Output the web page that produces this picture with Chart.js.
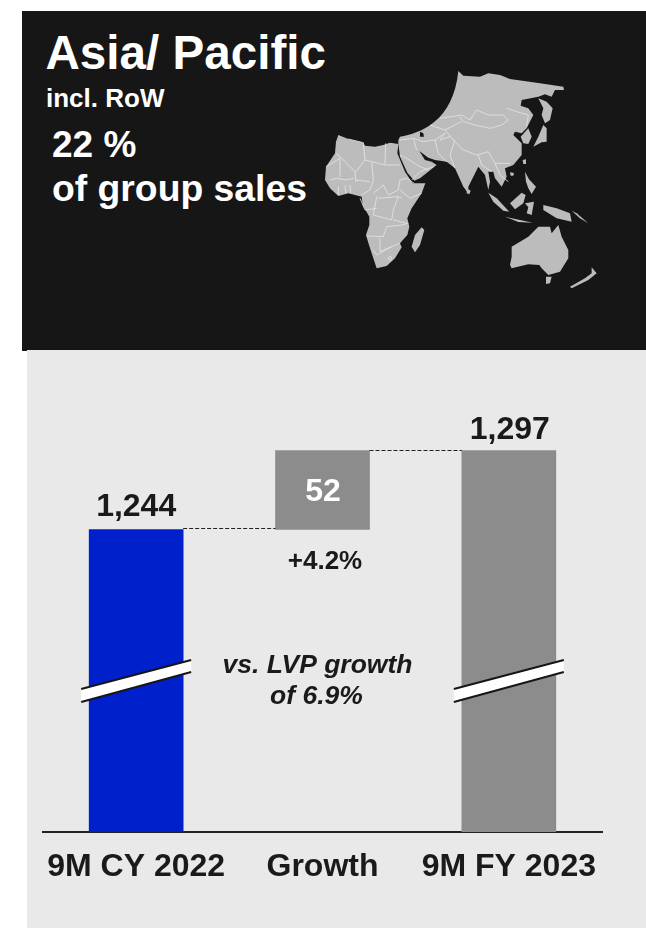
<!DOCTYPE html>
<html>
<head>
<meta charset="utf-8">
<title>Asia/ Pacific</title>
<script src="https://cdn.jsdelivr.net/npm/chart.js@4"></script>
<style>
    html, body { margin: 0; background: #fff; }
    #pagina { position: relative; width: 646px; height: 928px; overflow: hidden; font-family: "Liberation Sans", Arial, sans-serif; font-weight: bold; }
    #oscuro { position: absolute; left: 22px; top: 11px; width: 624px; height: 340px; background: #161616; }
    #claro { position: absolute; left: 27px; top: 350px; width: 619px; height: 578px; background: #e9e9e9; }
    #grafica, #mapa { position: absolute; left: 0; top: 0; }
    #mapa { filter: blur(.35px); }
    .txt { position: absolute; color: #fff; white-space: nowrap; line-height: 1; }
</style>
</head>
<body>
<div id="pagina">
    <div id="oscuro"></div>
    <div id="claro"></div>

    <div class="txt" style="left:45.5px;top:29px;font-size:47.6px">Asia/ Pacific</div>
    <div class="txt" style="left:46px;top:85px;font-size:26px">incl. RoW</div>
    <div class="txt" style="left:52px;top:126px;font-size:37px">22 %</div>
    <div class="txt" style="left:52px;top:170px;font-size:37.3px">of group sales</div>

    <!-- Mapa decorativo, dibujado a mano -->
    <svg id="mapa" width="646" height="350" fill="#bcbcbc" stroke="none">
        <g transform="translate(320 130) scale(.3333)">
            <path d="M55 15 85 27 130 38 135 47 165 50 190 45 210 38 235 42 232 70 255 125 278 160 316 160 305 190 275 235 262 265 268 290 262 315 240 340 245 352 225 385 200 408 170 415 160 385 147 345 138 315 148 285 148 260 128 225 125 200 85 190 55 198 30 175 15 150 18 110 45 70 48 35Z"/>
            <path d="M305 292 313 300 300 345 285 367 275 350 285 315Z"/>
            <g fill="none" stroke="#e6e6e6" stroke-width="2.4">
                <path d="M48 70 65 85 105 125 108 155M18 110 60 85 60 140"/>
                <path d="M85 27 130 38 135 90 108 125M135 90 155 95 195 105 197 40M197 105 240 105"/>
                <path d="M155 95 160 150 150 180 125 195M105 150 150 155"/>
                <path d="M190 165 205 195 235 180 240 150 260 145 283 160M190 165 160 190"/>
                <path d="M240 180 270 205 305 190M175 205 235 200 245 205"/>
                <path d="M170 200 160 255 215 270 220 240 235 200M220 270 260 280"/>
                <path d="M140 318 190 320 200 290 245 285 265 280M180 325 180 365 215 350 240 340M160 360 170 375 215 350"/>
                <path d="M30 150 50 145 80 150 100 145M55 170 55 195M75 165 78 190M90 165 92 190M120 205 135 240 170 235"/>
                <circle cx="210" cy="385" r="5"/>
            </g>
        </g>
        <g transform="translate(400 65) scale(.3333)">
            <path d="M0 215C60 205 160 170 175 18L190 32 240 35 265 25 300 30 330 42 420 55 490 65 492 75 465 75 455 95 435 88 415 95 365 105 362 122 385 130 400 150 380 190 365 205 345 200 340 210 365 235 365 270 340 300 315 310 320 335 305 365 285 340 280 320 265 320 270 350 265 375 255 330 235 305 205 365 205 385 190 365 165 310 140 290 105 285 85 278 58 258 75 285 95 290 110 300 60 340 43 347 22 323 0 275-5 237-5 225Z"/>
            <path d="M415 100 440 110 458 130 450 165 435 175 425 150 430 130Z"/>
            <path d="M385 190 395 215 385 237 370 235 362 215Z"/>
            <path d="M400 245 415 215 430 180 440 190 440 230 425 232Z"/>
            <path d="M368 285 378 283 378 297 370 297Z"/>
            <path d="M330 322 342 324 340 332 332 332Z"/>
            <path fill="#161616" d="M60 200 70 205 72 215 60 215Z"/>
            <g fill="none" stroke="#e6e6e6" stroke-width="2.4">
                <path d="M120 160 185 150 210 165 230 135 265 150 310 150 325 165 305 180 270 190 225 180 190 170 180 155"/>
                <path d="M320 130 350 140 385 150 380 185"/>
                <path d="M90 180 135 195 165 180 185 170M135 195 160 225 190 255 230 270 265 260 285 295 330 295"/>
                <path d="M0 225 40 220 70 230 105 225 135 205M105 225 115 265 140 290M40 220 50 255"/>
                <path d="M165 225 150 270 165 310M235 270 245 300 275 320M285 295 300 330 325 350"/>
                <path d="M0 270 20 280 60 305 85 315M35 345 60 320 100 305M135 205 120 225 150 215"/>
            </g>
        </g>
        <g transform="translate(460 170) scale(.3333)">
            <path d="M85 68 110 85 148 125 130 122 100 95Z"/>
            <path d="M135 140 180 150 218 158 175 156Z"/>
            <path d="M150 100 185 68 197 75 190 100 165 118Z"/>
            <path d="M195 100 222 95 215 135 200 130 205 112Z"/>
            <path d="M195 5 207 28 228 50 215 72 205 55 198 35Z"/>
            <path d="M250 105 290 115 330 130 335 155 290 145 250 120Z"/>
            <path d="M335 122 350 130 385 160 360 145Z"/>
            <path d="M20 55 32 62 28 73 20 70Z"/>
            <path d="M155 230 205 200 235 170 270 170 275 190 295 165 305 200 325 240 325 265 300 305 265 315 245 295 238 285 205 283 155 295 150 285 155 260Z"/>
            <path d="M258 320 275 320 270 340 258 342Z"/>
            <path d="M395 292 410 310 385 330 335 355 330 350 375 325 395 310Z"/>
        </g>
    </svg>

    <canvas id="grafica" width="646" height="928"></canvas>
</div>

<script>
// Datos de la grafica
const categorias = ['9M CY 2022', 'Growth', '9M FY 2023'];
const inicioBarra = [1041, 1244, 1041]; // el eje esta cortado, no empieza en cero
const finBarra = [1244, 1297, 1297];
const coloresBarra = ['#0020cc', '#8c8c8c', '#8c8c8c'];
const etiquetaTotal = '1,244';
const etiquetaFinal = '1,297';
const etiquetaCrecimiento = '52';
const etiquetaPorcentaje = '+4.2%';
const notaLVP = ['vs. LVP growth', 'of 6.9%'];

const fuente = '"Liberation Sans", Arial, sans-serif';
const colorTexto = '#1a1a1a';

// Texto centrado en x con la linea base en y
function texto(ctx, cadena, x, y, estilo, color) {
    ctx.font = estilo + ' ' + fuente;
    ctx.fillStyle = color;
    ctx.textAlign = 'center';
    ctx.textBaseline = 'alphabetic';
    ctx.fillText(cadena, x, y);
}

// Marca de corte: banda blanca inclinada con bordes negros
function corte(ctx, xc) {
    ctx.beginPath();
    ctx.moveTo(xc - 55, 689);
    ctx.lineTo(xc + 55, 660);
    ctx.lineTo(xc + 55, 672);
    ctx.lineTo(xc - 55, 702);
    ctx.closePath();
    ctx.fillStyle = '#fff';
    ctx.fill();
    ctx.strokeStyle = '#161616';
    ctx.lineWidth = 2;
    ctx.beginPath();
    ctx.moveTo(xc - 55, 689);
    ctx.lineTo(xc + 55, 660);
    ctx.moveTo(xc - 55, 702);
    ctx.lineTo(xc + 55, 672);
    ctx.stroke();
}

const extras = {
    id: 'extras',
    afterDatasetsDraw(chart) {
        const ctx = chart.ctx;
        const y = chart.scales.y;
        const barras = chart.getDatasetMeta(0).data;
        const medio = barras[0].width / 2;
        const x0 = barras[0].x, x1 = barras[1].x, x2 = barras[2].x;

        ctx.save();

        // Lineas punteadas entre barras
        const yBajo = Math.round(y.getPixelForValue(finBarra[0])) - 0.5;
        const yAlto = Math.round(y.getPixelForValue(finBarra[1])) + 0.5;
        ctx.strokeStyle = '#222';
        ctx.lineWidth = 1;
        ctx.setLineDash([4, 2]);
        ctx.beginPath();
        ctx.moveTo(x0 + medio, yBajo);
        ctx.lineTo(x1 - medio, yBajo);
        ctx.moveTo(x1 + medio, yAlto);
        ctx.lineTo(x2 - medio, yAlto);
        ctx.stroke();
        ctx.setLineDash([]);

        corte(ctx, x0);
        corte(ctx, x2);

        texto(ctx, etiquetaTotal, x0, y.getPixelForValue(finBarra[0]) - 13, 'bold 32px', colorTexto);
        texto(ctx, etiquetaFinal, x2 + 1, y.getPixelForValue(finBarra[2]) - 11, 'bold 32px', colorTexto);
        texto(ctx, etiquetaCrecimiento, x1 + 0.5, 501, 'bold 32px', '#fff');
        texto(ctx, etiquetaPorcentaje, x1 + 2.5, 569, 'bold 26px', colorTexto);
        texto(ctx, notaLVP[0], x1 - 5, 673, 'italic bold 26.5px', colorTexto);
        texto(ctx, notaLVP[1], x1 - 6, 704, 'italic bold 26.5px', colorTexto);

        ctx.restore();
    }
};

new Chart(document.getElementById('grafica').getContext('2d'), {
    type: 'bar',
    data: {
        labels: categorias,
        datasets: [{
            label: 'Ventas',
            data: categorias.map((c, i) => [inicioBarra[i], finBarra[i]]),
            backgroundColor: coloresBarra,
            borderWidth: 0,
            barThickness: 94
        }]
    },
    options: {
        responsive: false,
        animation: false,
        layout: { padding: { left: 43, right: 44, top: 446, bottom: 0 } },
        plugins: { legend: { display: false }, tooltip: { enabled: false } },
        scales: {
            x: {
                grid: { display: false, drawTicks: false },
                border: { display: true, color: '#222', width: 2 },
                ticks: {
                    color: colorTexto,
                    padding: 16,
                    maxRotation: 0,
                    autoSkip: false,
                    font: { family: fuente, size: 32, weight: 'bold' }
                },
                afterFit(escala) { escala.height = 96; }
            },
            y: {
                display: false,
                min: 1041,
                max: 1300,
                afterFit(escala) { escala.width = 0; }
            }
        }
    },
    plugins: [extras]
});
</script>
</body>
</html>
